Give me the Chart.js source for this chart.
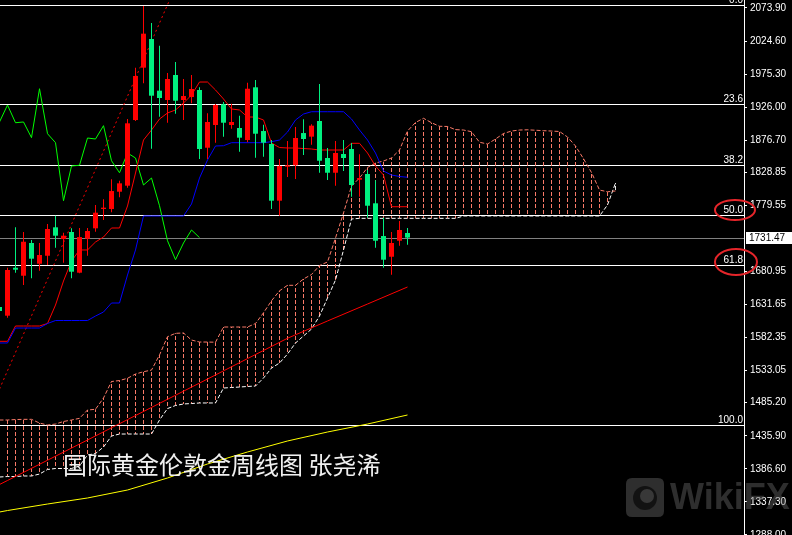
<!DOCTYPE html>
<html><head><meta charset="utf-8">
<script src="https://cdn.jsdelivr.net/npm/chart.js@4.4.0/dist/chart.umd.min.js"></script>
<style>html,body{margin:0;padding:0;background:#000;overflow:hidden}</style>
</head><body>
<canvas id="c" width="792" height="535"></canvas>
<script>
// ---- data (weekly gold, bar index -1 .. 50) ----
const firstBar = -1;
const opens  = [1627.9,1615.0,1686.5,1674.6,1723.4,1692.5,1704.4,1746.8,1729.3,1739.8,1679.1,1729.8,1745.3,1774.1,1774.1,1799.9,1808.9,1906.8,1984.9,2027.7,1950.6,1936.7,1974.0,1936.7,1941.1,1951.6,1865.5,1899.4,1930.3,1899.4,1894.9,1877.0,1955.6,1890.4,1871.1,1786.5,1837.2,1839.3,1887.4,1882.0,1905.4,1850.2,1828.2,1856.1,1863.6,1817.8,1826.3,1782.6,1733.8,1702.9,1726.8,1738.3];
const highs  = [1627.9,1686.5,1746.8,1739.8,1727.9,1723.4,1751.7,1764.1,1738.8,1745.3,1745.8,1745.8,1780.1,1788.6,1818.4,1816.3,1908.3,1984.9,2076.9,2051.5,2017.7,1977.0,1993.4,1968.0,1974.0,1955.6,1916.8,1930.7,1933.7,1931.2,1913.3,1962.5,1966.5,1899.9,1877.0,1848.7,1875.5,1896.4,1907.9,1900.4,1960.5,1865.1,1875.5,1877.0,1872.5,1855.7,1832.3,1816.9,1761.1,1739.8,1756.2,1745.8];
const lows   = [1622.0,1612.0,1679.1,1660.7,1670.7,1682.1,1690.6,1716.4,1694.0,1670.7,1678.2,1704.4,1740.3,1757.7,1769.2,1791.6,1805.9,1905.4,1961.6,1864.0,1911.7,1902.8,1916.3,1906.8,1931.8,1848.7,1848.7,1873.0,1881.9,1893.9,1859.6,1873.6,1850.6,1852.1,1774.1,1764.1,1821.8,1818.9,1854.6,1870.0,1828.2,1817.4,1808.9,1830.8,1792.5,1792.5,1761.1,1716.4,1686.5,1676.1,1719.3,1720.8];
const closes = [1622.0,1683.1,1683.6,1725.3,1700.0,1705.5,1744.3,1734.3,1734.3,1680.6,1732.3,1741.3,1768.6,1776.1,1800.9,1812.4,1901.9,1972.5,2035.6,1943.1,1939.7,1968.0,1935.6,1942.6,1953.1,1863.6,1903.9,1929.2,1902.8,1903.9,1880.5,1953.5,1886.4,1873.0,1786.5,1838.3,1839.3,1880.0,1878.5,1898.4,1846.1,1828.2,1857.6,1850.2,1809.9,1820.3,1779.0,1726.8,1698.5,1723.4,1742.8,1731.47];

// Ichimoku lines (bar index -1 .. 50)
const tenkan = [1576.8,1576.8,1599.6,1599.6,1599.6,1599.6,1603.3,1630.9,1666.7,1696.5,1713.0,1713.0,1724.9,1732.3,1745.8,1745.8,1778.6,1827.8,1877.0,1891.9,1908.3,1917.3,1921.8,1932.2,1944.1,1963.5,1963.5,1951.6,1938.2,1923.3,1921.8,1911.3,1911.3,1906.9,1872.5,1865.8,1865.1,1865.1,1864.3,1863.6,1862.1,1862.1,1862.1,1862.1,1872.1,1872.1,1857.6,1838.2,1824.8,1777.5,1777.5,1777.5];
const kijun  = [1574.3,1574.3,1596.6,1596.6,1596.6,1596.6,1603.3,1607.8,1607.8,1607.8,1607.8,1607.8,1614.5,1620.5,1633.9,1633.9,1675.7,1713.0,1763.7,1763.7,1763.7,1763.7,1763.7,1763.7,1781.6,1820.3,1847.2,1868.1,1868.5,1873.0,1873.0,1873.0,1873.0,1873.0,1874.5,1877.0,1888.9,1906.9,1915.8,1919.2,1919.2,1919.2,1919.2,1919.2,1908.3,1891.9,1877.0,1857.6,1830.8,1824.8,1822.6,1821.4];
// lagging span (bar index -1 .. 24)
const chikou = [1903.9,1929.2,1902.8,1903.9,1880.5,1953.5,1886.4,1873.0,1786.5,1838.3,1839.3,1880.0,1878.5,1898.4,1846.1,1828.2,1857.6,1850.2,1809.9,1820.3,1779.0,1726.8,1698.5,1723.4,1742.8,1731.47];
// cloud spans (bar index -1 .. 76)
const spanA = [1459.4,1459.4,1460.1,1460.4,1460.4,1454.9,1451.9,1453.4,1457.2,1459.4,1461.9,1474.3,1475.4,1492.2,1516.8,1518.3,1521.6,1528.0,1531.4,1533.9,1556.4,1583.6,1588.7,1589.2,1578.7,1575.7,1575.7,1575.4,1598.1,1598.1,1598.1,1598.1,1603.3,1619.3,1637.2,1652.1,1660.3,1660.3,1669.7,1676.4,1689.8,1695.1,1730.8,1768.1,1808.4,1820.3,1836.0,1842.7,1845.7,1850.2,1862.1,1890.4,1903.1,1909.4,1902.8,1897.5,1897.2,1892.5,1891.9,1889.4,1873.7,1871.0,1878.5,1886.7,1890.4,1891.9,1892.2,1891.6,1890.9,1890.4,1889.7,1881.5,1868.1,1849.1,1828.5,1802.4,1799.8,1801.0];
const spanB = [1374.4,1375.1,1375.1,1375.9,1375.9,1378.8,1385.6,1387.1,1387.1,1387.1,1390.8,1407.2,1409.4,1419.1,1435.5,1438.5,1438.5,1438.5,1438.5,1438.5,1459.4,1476.5,1481.0,1483.3,1484.0,1484.8,1484.8,1484.8,1507.1,1507.9,1508.6,1509.4,1510.1,1522.0,1536.9,1544.4,1557.8,1574.2,1584.7,1595.1,1614.5,1641.4,1668.2,1712.9,1759.2,1760.2,1760.2,1760.2,1760.2,1760.2,1760.2,1760.2,1760.2,1760.2,1760.2,1760.2,1760.2,1760.2,1763.7,1763.7,1763.7,1763.7,1763.7,1763.7,1763.7,1763.7,1763.7,1763.7,1763.7,1763.7,1763.7,1763.7,1763.7,1763.7,1763.7,1763.7,1780.1,1812.9];

// moving averages (sampled bars)
const maBars    = [-1,0,5,10,15,20,25,30,35,40,45,50];
const maRed     = [1363.2,1369.2,1399.4,1429.6,1460.0,1490.3,1520.5,1551.0,1581.3,1607.1,1632.4,1657.8];
const maYellow  = [1322.2,1324.4,1334.1,1343.1,1355.0,1372.9,1393.8,1411.7,1428.1,1441.5,1453.4,1466.9];
// hand-drawn trend line
const trendBars = [-1,21];
const trendVals = [1505.6,2106.0];

// fibonacci
const fibHigh = 2078.4, fibLow = 1452.0;
const fibLevels = [0,23.6,38.2,50,61.8,100];
const lastPrice = 1731.47;

// price axis labels
const tickValues = [2073.90,2024.60,1975.30,1926.00,1876.70,1828.85,1779.55,1680.95,1631.65,1582.35,1533.05,1485.20,1435.90,1386.60,1337.30,1288.00];
const tickLabels = ["2073.90","2024.60","1975.30","1926.00","1876.70","1828.85","1779.55","1680.95","1631.65","1582.35","1533.05","1485.20","1435.90","1386.60","1337.30","1288.00"];

const titleText = "国际黄金伦敦金周线图 张尧浠";

// ---- build ----
const RED = '#FF0000', GREEN = '#00F080', SALMON = '#FA7A68';
const canvas = document.getElementById('c');
const mainCtx = canvas.getContext('2d');
function hatch(color){
  const c = document.createElement('canvas'); c.width = 1; c.height = 6;
  const g = c.getContext('2d'); g.fillStyle = color; g.fillRect(0,0,1,4);
  return mainCtx.createPattern(c,'repeat');
}
const hatchSalmon = hatch(SALMON), hatchWhite = hatch('#E8E8E8');

const bx = k => firstBar + k;
const candleColors = opens.map((o,k)=> closes[k] >= o ? RED : GREEN);
const pts = (arr) => arr.map((v,k)=>({x:bx(k), y:v}));

const datasets = [
  {type:'bar', label:'cloud', data: spanA.map((a,k)=>({x:bx(k), y:[Math.min(a,spanB[k]), Math.max(a,spanB[k])]})),
   backgroundColor: spanA.map((a,k)=> a >= spanB[k] ? hatchSalmon : hatchWhite),
   barThickness:1, grouped:false, inflateAmount:0, borderWidth:0, order:20},
  {type:'line', data: pts(spanA), borderColor:SALMON, borderWidth:1, borderDash:[4,2], pointRadius:0, order:19},
  {type:'line', data: pts(spanB), borderColor:'#FFFFFF', borderWidth:1, borderDash:[4,2], pointRadius:0, order:19},
  {type:'line', data: maBars.map((b,k)=>({x:b,y:maRed[k]})), borderColor:RED, borderWidth:1, pointRadius:0, order:15},
  {type:'line', data: maBars.map((b,k)=>({x:b,y:maYellow[k]})), borderColor:'#FFFF00', borderWidth:1, pointRadius:0, order:15},
  {type:'line', data: trendBars.map((b,k)=>({x:b,y:trendVals[k]})), borderColor:RED, borderWidth:1, borderDash:[2,3], pointRadius:0, order:15},
  {type:'line', data: pts(kijun), borderColor:'#0000FF', borderWidth:1, pointRadius:0, order:10},
  {type:'line', data: pts(tenkan), borderColor:RED, borderWidth:1, pointRadius:0, order:10},
  {type:'line', data: pts(chikou), borderColor:'#00FF00', borderWidth:1, pointRadius:0, order:10},
  {type:'bar', data: highs.map((h,k)=>({x:bx(k), y:[lows[k],h]})), backgroundColor:candleColors,
   barThickness:1, grouped:false, inflateAmount:0, borderWidth:0, order:2},
  {type:'bar', data: opens.map((o,k)=>({x:bx(k), y:[o,closes[k]]})), backgroundColor:candleColors,
   barThickness:5, grouped:false, inflateAmount:0, borderWidth:0, order:1}
];

const deco = {
  id:'deco',
  beforeDraw(chart){
    const ctx = chart.ctx; ctx.save(); ctx.fillStyle='#000'; ctx.fillRect(0,0,chart.width,chart.height); ctx.restore();
  },
  beforeDatasetsDraw(chart){
    const {ctx, chartArea:a, scales:{y}} = chart;
    ctx.save(); ctx.lineWidth = 1;
    ctx.strokeStyle = '#FFFFFF';
    fibLevels.forEach(l=>{
      const py = Math.round(y.getPixelForValue(fibHigh - (fibHigh-fibLow)*l/100)) + 0.5;
      ctx.beginPath(); ctx.moveTo(a.left,py); ctx.lineTo(a.right,py); ctx.stroke();
    });
    const cy = Math.round(y.getPixelForValue(lastPrice)) + 0.5;
    ctx.strokeStyle = '#808080';
    ctx.beginPath(); ctx.moveTo(a.left,cy); ctx.lineTo(a.right,cy); ctx.stroke();
    ctx.restore();
  },
  afterDraw(chart){
    const {ctx, chartArea:a, scales:{y}} = chart;
    ctx.save();
    // fib labels
    ctx.font = '10px "Liberation Sans"'; ctx.fillStyle = '#FFFFFF';
    ctx.textAlign = 'right'; ctx.textBaseline = 'alphabetic';
    const fibY = {};
    fibLevels.forEach(l=>{
      const py = Math.round(y.getPixelForValue(fibHigh - (fibHigh-fibLow)*l/100));
      fibY[l] = py;
      ctx.fillText(l.toFixed(1), a.right-1, py-2);
    });
    // current price box
    const cy = Math.round(y.getPixelForValue(lastPrice));
    ctx.fillStyle = '#FFFFFF'; ctx.fillRect(a.right+2, cy-6, 46, 12);
    ctx.fillStyle = '#000000'; ctx.textAlign='left'; ctx.textBaseline='middle';
    ctx.fillText(lastPrice.toFixed(2), a.right+5, cy+0.5);
    // red ellipses
    ctx.strokeStyle = '#E5252A'; ctx.lineWidth = 2;
    ctx.beginPath(); ctx.ellipse(a.right-9, fibY[50]-5, 20, 10, 0, 0, Math.PI*2); ctx.stroke();
    ctx.beginPath(); ctx.ellipse(a.right-8, fibY[61.8]-3, 21, 13, 0, 0, Math.PI*2); ctx.stroke();
    // title
    ctx.font = '24px "Noto Sans CJK SC"'; ctx.fillStyle = '#F0F0F0';
    ctx.textAlign='left'; ctx.textBaseline='middle';
    ctx.fillText(titleText, 63, 465);
    // watermark
    ctx.fillStyle = 'rgba(110,110,110,0.42)';
    const rx=626, ry=478, rw=38, rh=39, r=6;
    ctx.beginPath();
    ctx.moveTo(rx+r,ry); ctx.lineTo(rx+rw-r,ry); ctx.quadraticCurveTo(rx+rw,ry,rx+rw,ry+r);
    ctx.lineTo(rx+rw,ry+rh-r); ctx.quadraticCurveTo(rx+rw,ry+rh,rx+rw-r,ry+rh);
    ctx.lineTo(rx+r,ry+rh); ctx.quadraticCurveTo(rx,ry+rh,rx,ry+rh-r);
    ctx.lineTo(rx,ry+r); ctx.quadraticCurveTo(rx,ry,rx+r,ry); ctx.fill();
    ctx.fillStyle = 'rgba(0,0,0,0.6)';
    ctx.beginPath(); ctx.arc(rx+19, ry+20, 12, 0, Math.PI*2); ctx.fill();
    ctx.fillStyle = 'rgba(110,110,110,0.42)';
    ctx.beginPath(); ctx.arc(rx+21, ry+18, 7, 0, Math.PI*2); ctx.fill();
    ctx.font = 'bold 36px "Liberation Sans"'; ctx.textBaseline='middle';
    ctx.fillText('WikiFX', 670, 499);
    ctx.restore();
  }
};

new Chart(canvas, {
  type:'bar',
  data:{datasets},
  options:{
    responsive:false, animation:false, devicePixelRatio:1,
    layout:{padding:0},
    plugins:{legend:{display:false}, tooltip:{enabled:false}},
    scales:{
      x:{type:'linear', display:false, offset:false, min:-0.9375, max:92.0625, grid:{offset:false}},
      y:{type:'linear', position:'right', min:1287.9, max:2085.83,
         border:{display:true, color:'#FFFFFF', width:1},
         grid:{display:true, drawOnChartArea:false, drawTicks:true, tickLength:3, color:'#FFFFFF'},
         ticks:{color:'#FFFFFF', padding:3, autoSkip:false, font:{family:'Liberation Sans', size:10},
                callback:(v)=>{ const k = tickValues.indexOf(v); return k>=0 ? tickLabels[k] : ''; }},
         afterBuildTicks:(s)=>{ s.ticks = tickValues.map(v=>({value:v})); },
         afterFit:(s)=>{ s.width = 48; s.paddingTop = 0; s.paddingBottom = 0; }
      }
    }
  },
  plugins:[deco]
});
</script>
</body></html>
